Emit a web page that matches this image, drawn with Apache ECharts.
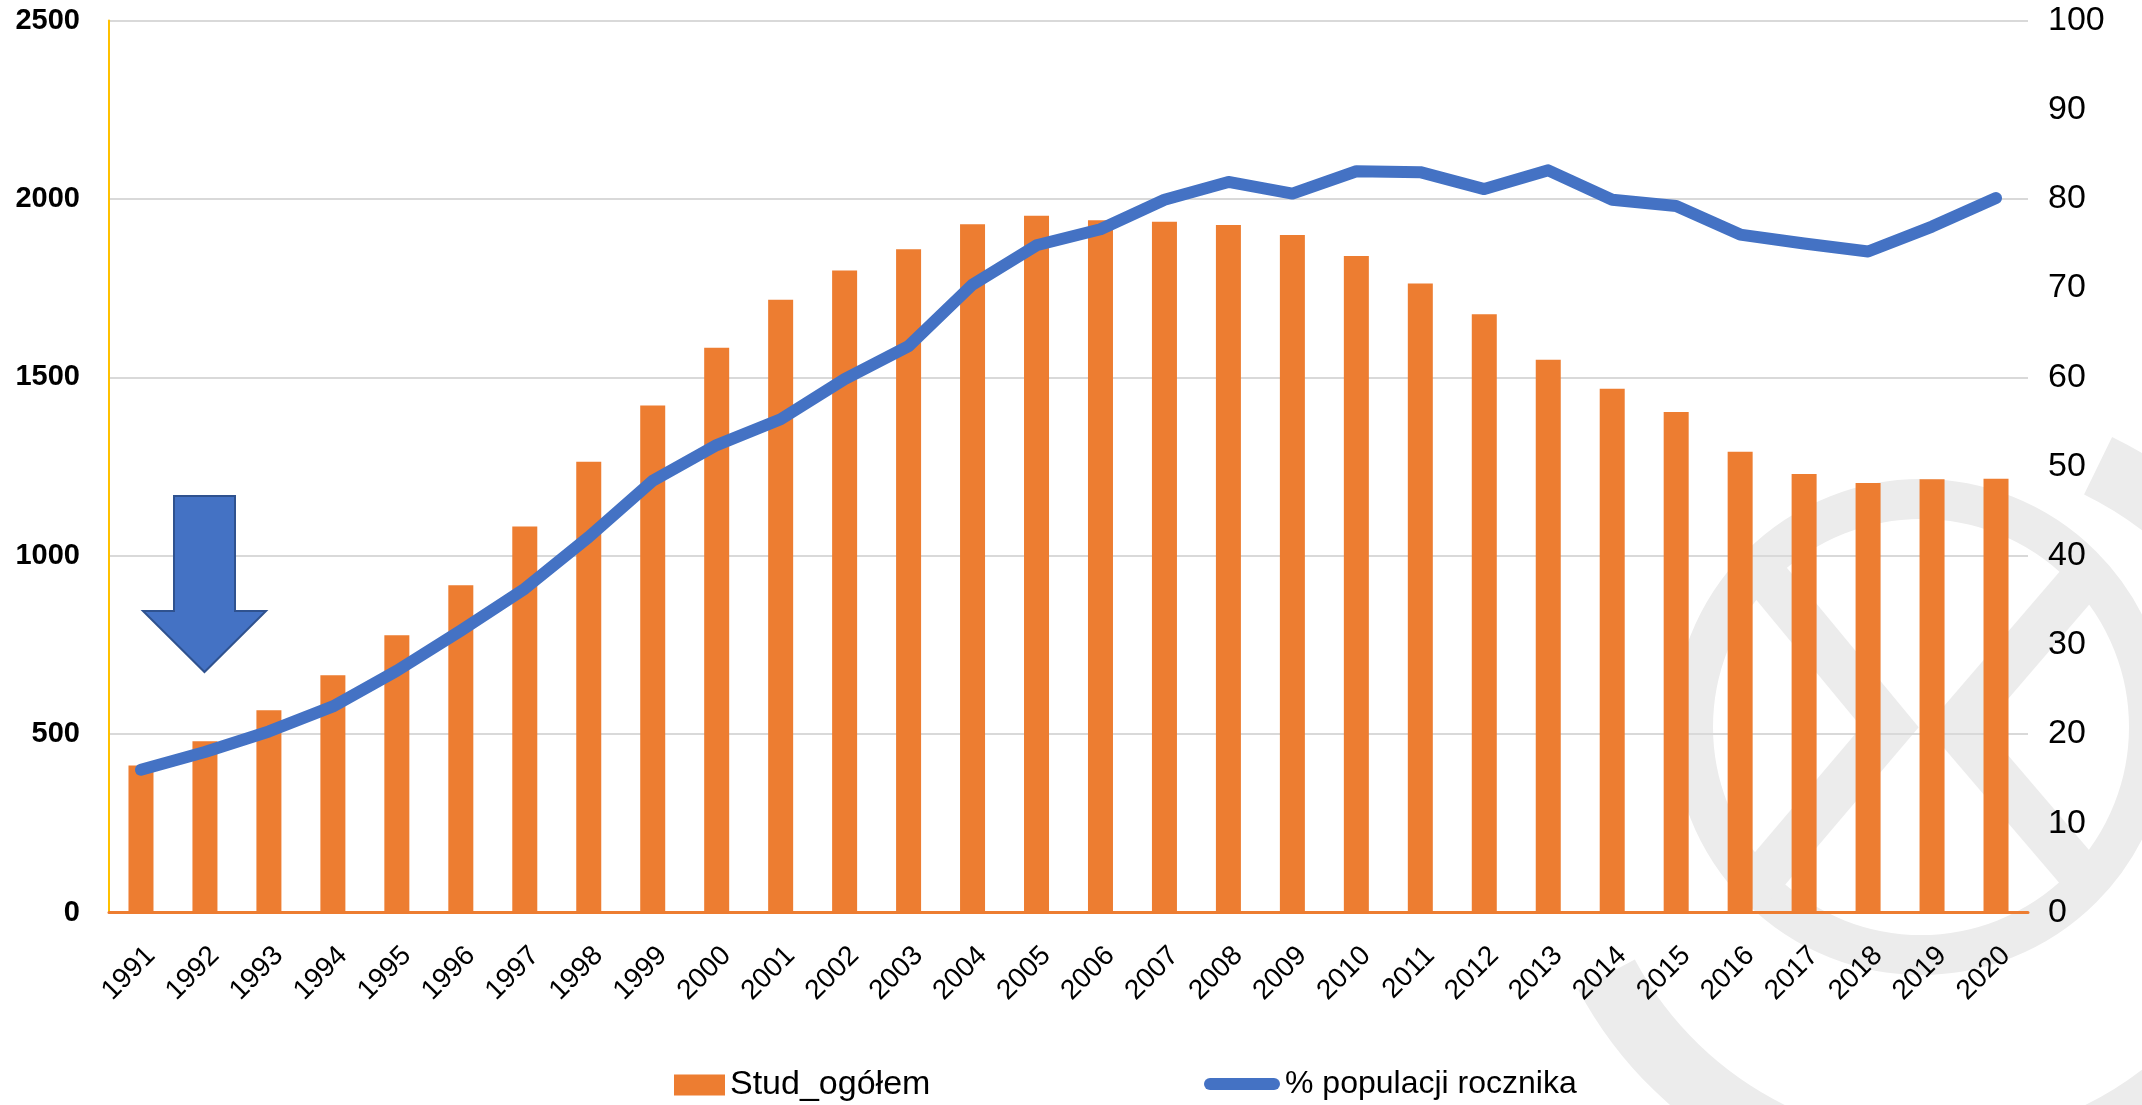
<!DOCTYPE html>
<html>
<head>
<meta charset="utf-8">
<script src="https://cdn.jsdelivr.net/npm/echarts@6/dist/echarts.min.js"></script>
<style>
html,body{margin:0;padding:0;background:#fff;}
#chart{width:2142px;height:1105px;}
</style>
</head>
<body>
<div id="chart"></div>
<script>
const categories = ['1991','1992','1993','1994','1995','1996','1997','1998','1999','2000',
  '2001','2002','2003','2004','2005','2006','2007','2008','2009','2010',
  '2011','2012','2013','2014','2015','2016','2017','2018','2019','2020'];
const students = [412, 480, 567, 665, 777, 917, 1082, 1263, 1421, 1583,
  1717, 1799, 1859, 1929, 1953, 1940, 1936, 1927, 1899, 1840,
  1763, 1677, 1549, 1468, 1403, 1291, 1229, 1204, 1214, 1216];
const percent = [16.0, 18.0, 20.3, 23.1, 27.1, 31.6, 36.3, 42.1, 48.4, 52.4,
  55.3, 59.8, 63.5, 70.4, 74.8, 76.6, 79.9, 81.9, 80.6, 83.1,
  83.0, 81.1, 83.2, 79.9, 79.2, 76.0, 75.0, 74.1, 76.9, 80.1];
const seriesNames = ['Stud_ogółem', '% populacji rocznika'];

const FONT = 'Liberation Sans';
const ORANGE = '#ED7D31';
const BLUE = '#4472C4';
const WM = '#ececec';

const chart = echarts.init(document.getElementById('chart'), null, {renderer: 'canvas'});
const deg = Math.PI / 180;

const option = {
  animation: false,
  backgroundColor: '#ffffff',
  textStyle: {fontFamily: FONT},
  grid: {left: 109, right: 114, top: 20.5, bottom: 192.5, containLabel: false},
  legend: [
    {
      data: [seriesNames[0]],
      left: 669, top: 1063,
      itemWidth: 51, itemHeight: 21, icon: 'rect',
      textStyle: {fontFamily: FONT, fontSize: 34, color: '#000'}
    },
    {
      data: [{name: seriesNames[1], icon: 'path://M6,0H70A6,6,0,0,1,70,12H6A6,6,0,0,1,6,0Z'}],
      left: 1199, top: 1063,
      itemWidth: 76, itemHeight: 21,
      textStyle: {fontFamily: FONT, fontSize: 32, color: '#000'}
    }
  ],
  xAxis: {
    type: 'category',
    data: categories,
    boundaryGap: true,
    axisTick: {show: false},
    axisLine: {show: true, lineStyle: {color: ORANGE, width: 3}},
    axisLabel: {interval: 0, rotate: 45, fontSize: 28, color: '#000', fontFamily: FONT,
      margin: 29, verticalAlign: 'top'}
  },
  yAxis: [
    {
      type: 'value', min: 0, max: 2500, interval: 500,
      axisLine: {show: true, lineStyle: {color: '#FFC000', width: 2}},
      axisTick: {show: false},
      splitLine: {show: true, lineStyle: {color: '#d9d9d9', width: 2}},
      axisLabel: {fontSize: 29, fontWeight: 'bold', color: '#000', fontFamily: FONT, margin: 29,
        formatter: function (v) { return String(v); }}
    },
    {
      type: 'value', min: 0, max: 100, interval: 10,
      position: 'right',
      axisLine: {show: false},
      axisTick: {show: false},
      splitLine: {show: false},
      axisLabel: {fontSize: 34, color: '#000', fontFamily: FONT, margin: 20,
        formatter: function (v) { return String(v); }}
    }
  ],
  series: [
    {
      name: seriesNames[0],
      type: 'bar',
      data: students,
      yAxisIndex: 0,
      barWidth: 25,
      itemStyle: {color: ORANGE},
      z: 2
    },
    {
      name: seriesNames[1],
      type: 'line',
      data: percent,
      yAxisIndex: 1,
      showSymbol: false,
      symbol: 'none',
      itemStyle: {color: BLUE},
      lineStyle: {color: BLUE, width: 12, cap: 'round', join: 'round'},
      z: 3
    }
  ],
  graphic: [
    // watermark logo (light grey, behind everything)
    {type: 'arc', z: -10, silent: true,
      shape: {cx: 1935, cy: 800, r: 372, startAngle: -64 * deg, endAngle: 152 * deg, clockwise: true},
      style: {stroke: WM, lineWidth: 64, fill: null}},
    {type: 'circle', z: -10, silent: true,
      shape: {cx: 1921, cy: 727, r: 228},
      style: {stroke: WM, lineWidth: 40, fill: null}},
    {type: 'polyline', z: -10, silent: true,
      shape: {points: [[1756, 565], [1890, 727], [1756, 885]]},
      style: {stroke: WM, lineWidth: 44, fill: null}},
    {type: 'polyline', z: -10, silent: true,
      shape: {points: [[2090, 570], [1955, 727], [2090, 885]]},
      style: {stroke: WM, lineWidth: 44, fill: null}},
    // blue arrow annotation
    {type: 'polygon', z: 100,
      shape: {points: [[174, 496], [235, 496], [235, 611], [266, 611], [204.5, 672], [143, 611], [174, 611]]},
      style: {fill: BLUE, stroke: '#2F528F', lineWidth: 2}}
  ]
};
chart.setOption(option);
</script>
</body>
</html>
